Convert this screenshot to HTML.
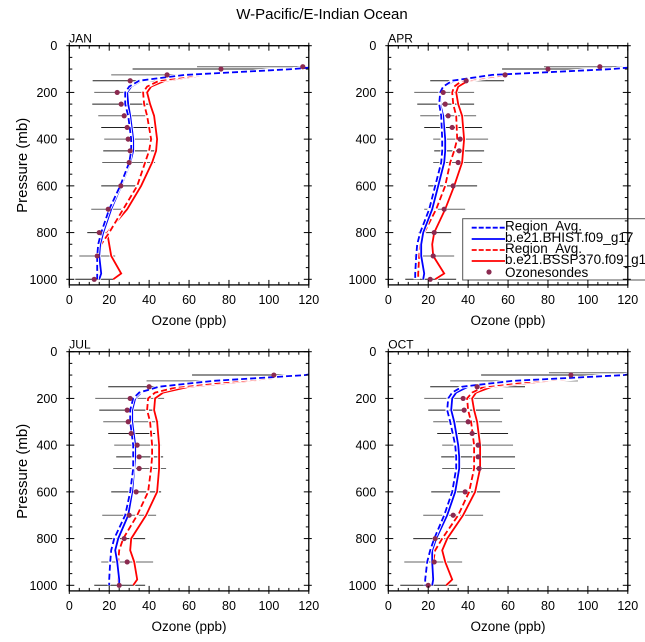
<!DOCTYPE html>
<html><head><meta charset="utf-8"><style>
body{margin:0;background:#fff;}
svg{display:block;font-family:"Liberation Sans",Arial,sans-serif;}
</style></head><body>
<svg id="chart" width="645" height="642" viewBox="0 0 645 642">
<text x="322" y="19" text-anchor="middle" font-size="15" fill="#000">W-Pacific/E-Indian Ocean</text>
</svg>
<script>
// ---- data ----
const months = ["JAN","APR","JUL","OCT"];
const sondeP = [90,100,125,150,200,250,300,350,400,450,500,600,700,800,900,1000];
const sondeVal = {
 JAN:[117,76,49,30.5,24,26,27.5,29,29.5,30.5,30,25.8,19.5,15,14,12.5],
 APR:[106,80,58.5,39,27.5,28.5,30,32,36,35.5,35,32.5,28,23,22.5,21],
 JUL:[null,102.5,null,40,30.5,29,29.5,31,34,35,35,33.5,30,27.5,29,25],
 OCT:[null,91.5,null,44.5,37.5,38,40,42,45,45,45.5,38.5,32.5,23.5,23,20]
};
const sondeLo = {
 JAN:[64,31.7,21,11.7,12.5,11.5,14.5,16,17.5,17,16.5,16,11,9,5,3],
 APR:[78,57,null,21,13,14.5,16,18,22.5,23,22.5,20,18,15,13,8.5],
 JUL:[null,61.5,38.7,19.5,13,15,17,19.5,22.5,23.5,22,21,16.5,17.5,16,12.5],
 OCT:[80.5,46.5,31,21,18,20,22.5,24.5,27,26.5,27,21.5,17.5,12.5,8,6]
};
const sondeHi = {
 JAN:[120,120,77,49,39.5,40,39,42,42,43.5,43,35.5,27.5,20.5,23,22],
 APR:[120,120,77,58,43,43,44,47,50,48,47,44.5,38.5,31.5,33,34],
 JUL:[null,120,92,47.5,47.5,43,45,43,46,47,48.5,46,43.5,38,42,38],
 OCT:[120,120,95,68.5,57.5,56,57,60,62.5,63.5,63.5,56,47.5,34.5,37,34.5]
};
const modelP = [90,100,125,150,175,200,250,300,400,450,500,600,700,800,850,900,975,1000];
const histDash = {
 JAN:[125,112,58,35,30,28,28,29.5,31,31,30,25.5,20,16,14.5,14,14,14],
 APR:[125,112,52,32,27.5,26,25.5,26.5,27,27,26.5,23.5,20.5,16,14.5,14,13.5,13.5],
 JUL:[125,118,72,45,35,32,30.5,30.5,32,32,32,30.5,28,22.5,21,20.5,20,20],
 OCT:[125,118,62,37,32,30,29.5,31,33.5,34,34,32,28,23,21,19.5,18.5,18.5]
};
const histSolid = {
 JAN:[125,112,60,36,31,29,29.5,30.5,32,32,30.5,26,21,17,15.5,15,16,15],
 APR:[125,112,55,33,28,26,26,27.5,28.5,28.5,28,25,22,17.5,16.5,16.5,18,17.5],
 JUL:[125,118,75,46,36,33,31.5,31.5,33,33,32.5,31.5,29.5,24.5,23,24,25,25],
 OCT:[125,118,65,40,34,32,31.5,33,35,35.5,35.5,33.5,29.5,24,22,22,22.5,22]
};
const sspDash = {
 JAN:[125,112,65,45,39,37,37.5,39,41,40,38,34,27,20,16,15,14.5,14],
 APR:[125,112,60,37,33,32,32.5,34,34.5,33,31,28.5,24,18,16,15.5,15,15],
 JUL:[125,120,85,55,43,39.5,39,40.5,41.5,41.5,41,39.5,34,27,25,24.5,24.5,24.5],
 OCT:[125,120,75,48,42,39.5,40,41.5,43,43,43,40.5,35,27,23.5,22.5,22,22]
};
const sspSolid = {
 JAN:[125,112,68,48,41,39,40.5,42.5,44,43.5,41.5,36,29,19,20,21,26,22],
 APR:[125,112,62,40,35,34,35,37,38,37.5,37,33,28.5,23,22,22.5,28,23.5],
 JUL:[125,120,90,60,47,43,42.5,44,45,45,45,44,38.5,31,30.5,32.5,34,32],
 OCT:[125,120,80,52,44,42,43,44.5,46,46,46,43.5,37.5,29.5,27,28.5,32,29]
};
const xTicks = [0,20,40,60,80,100,120];
const yTicks = [0,200,400,600,800,1000];

// ---- layout ----
const NS="http://www.w3.org/2000/svg";
const svg=document.getElementById('chart');
const panels={JAN:[69.3,45.7],APR:[388.3,45.7],JUL:[69.3,351.7],OCT:[388.3,351.7]};
const W=239.5, PMAX=1024;
function mk(tag,attrs,parent){const e=document.createElementNS(NS,tag);for(const k in attrs)e.setAttribute(k,attrs[k]);(parent||svg).appendChild(e);return e;}

months.forEach((m,mi)=>{
  const [L,T]=panels[m];
  const H=0.2336*PMAX;
  const xs=v=>L+v/120*W;
  const ys=p=>T+p*0.2336;
  const g=mk('g',{});
  
  
  const cid='clip'+m;
  const cp=mk('clipPath',{id:cid},g);mk('rect',{x:L,y:T,width:W,height:H},cp);
  const plot=mk('g',{'clip-path':'url(#'+cid+')'},g);
  sondeP.forEach((p,i)=>{
    const lo=sondeLo[m][i],hi=sondeHi[m][i];
    if(lo==null||hi==null)return;
    const l=mk('line',{x1:xs(lo),x2:xs(hi),y1:ys(p),y2:ys(p),stroke:i%2?'#222':'#666','stroke-width':1},plot);
    
    
  });
  const series=[[sspSolid,'#ff0000',''],[sspDash,'#ff0000','6 3'],[histSolid,'#0000ff',''],[histDash,'#0000ff','6 3']];
  const names=['ssp370-line','ssp370-avg-line','bhist-line','bhist-avg-line'];
  series.forEach((s,si)=>{
    const d=modelP.map((p,i)=>(i?'L':'M')+xs(s[0][m][i]).toFixed(1)+' '+ys(p).toFixed(1)).join(' ');
    mk('path',{d:d,fill:'none',stroke:'#fff','stroke-width':3.5},plot);
    const pl=mk('path',{d:d,fill:'none',stroke:s[1],'stroke-width':1.8,'stroke-dasharray':s[2]},plot);
    
    
  });
  sondeP.forEach((p,i)=>{
    const v=sondeVal[m][i]; if(v==null)return;
    const c=mk('circle',{cx:xs(v),cy:ys(p),r:2.6,fill:'#8b2a50'},plot);
    
    
  });
  if(m==='APR'){
    const lg=mk('g',{},g);
    
    
    mk('rect',{x:462.7,y:218.7,width:200,height:61.3,fill:'#fff',stroke:'#555','stroke-width':1},lg);
    const ent=[['Region_Avg.','#0000ff','5 2',227.7],['b.e21.BHIST.f09_g17','#0000ff','',239],['Region_Avg.','#ff0000','5 2',250],['b.e21.BSSP370.f09_g17','#ff0000','',261]];
    ent.forEach(e=>{
      mk('line',{x1:471.7,x2:505,y1:e[3],y2:e[3],stroke:e[1],'stroke-width':1.8,'stroke-dasharray':e[2]},lg);
      const t=mk('text',{x:505,y:e[3]+3,'font-size':13.5,fill:'#000'},lg);t.textContent=e[0];
      
      
    });
    mk('circle',{cx:489,cy:272,r:2.6,fill:'#8b2a50'},lg);
    const t=mk('text',{x:505,y:277,'font-size':13.5,fill:'#000'},lg);t.textContent='Ozonesondes';
    
    
  }
  const fr=mk('rect',{x:L,y:T,width:W,height:H,fill:'none',stroke:'#000','stroke-width':1.3},g);
  
  
  for(let v=0;v<=120;v+=5){
    const maj=v%20===0,len=maj?5:3;
    [[T+H,-1],[T,1]].forEach(([y0,dir])=>{
      mk('line',{x1:xs(v),x2:xs(v),y1:y0+(maj?-dir*3:0),y2:y0+dir*len,stroke:'#000','stroke-width':1},g);
    });
  }
  for(let p=0;p<=1000;p+=50){
    const maj=p%200===0,len=maj?5:3;
    mk('line',{x1:L+(maj?-3:0),x2:L+len,y1:ys(p),y2:ys(p),stroke:'#000','stroke-width':1},g);
    mk('line',{x1:L+W+(maj?3:0),x2:L+W-len,y1:ys(p),y2:ys(p),stroke:'#000','stroke-width':1},g);
  }
  xTicks.forEach(v=>{
    const t=mk('text',{x:xs(v),y:T+H+19,'font-size':12.5,'text-anchor':'middle',fill:'#000'},g);t.textContent=v;
    
    
  });
  yTicks.forEach(p=>{
    const t=mk('text',{x:L-12,y:ys(p)+4.5,'font-size':12.5,'text-anchor':'end',fill:'#000'},g);t.textContent=p;
    
    
  });
  const mt=mk('text',{x:L,y:T-3,'font-size':12,fill:'#000'},g);mt.textContent=m;
  
  
  const xt=mk('text',{x:L+W/2,y:T+H+40,'font-size':13.5,'text-anchor':'middle',fill:'#000'},g);xt.textContent='Ozone (ppb)';
  
  
  if(L<200){
    const cy=T+H/2;
    const yt=mk('text',{x:27,y:cy,'font-size':15,'text-anchor':'middle',fill:'#000',transform:'rotate(-90 27 '+cy+')'},g);yt.textContent='Pressure (mb)';
    
    
  }
});
</script>
</body></html>
